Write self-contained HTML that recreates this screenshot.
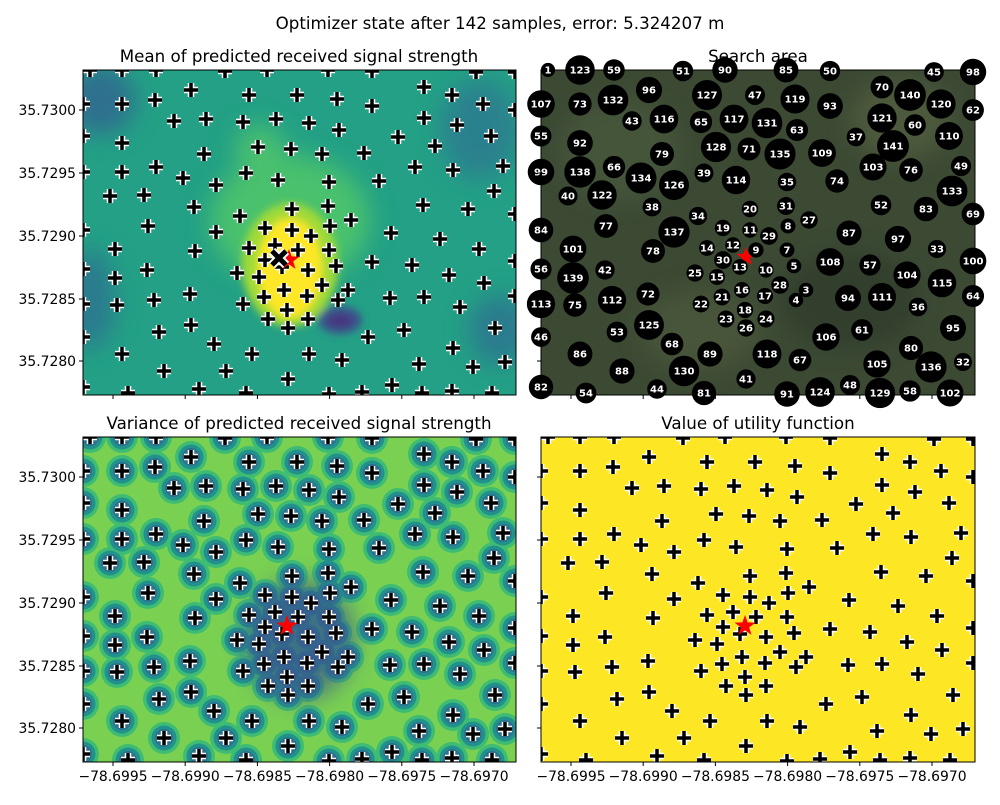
<!DOCTYPE html><html><head><style>body{margin:0;background:#fff}svg text{font-family:"DejaVu Sans","Liberation Sans",sans-serif}</style></head><body>
<svg id="s" width="1000" height="800" xmlns="http://www.w3.org/2000/svg">
<defs>
<clipPath id="c1"><rect x="83" y="70" width="433" height="325"/></clipPath>
<clipPath id="c2"><rect x="541" y="70" width="434" height="325"/></clipPath>
<clipPath id="c3"><rect x="83" y="437" width="433" height="325"/></clipPath>
<clipPath id="c4"><rect x="541" y="437" width="434" height="325"/></clipPath>
<filter id="b1" x="-50%" y="-50%" width="200%" height="200%"><feGaussianBlur stdDeviation="12"/></filter>
<filter id="b2" x="-50%" y="-50%" width="200%" height="200%"><feGaussianBlur stdDeviation="4"/></filter>
</defs>
<rect width="1000" height="800" fill="#fff"/>
<text x="500" y="29" font-size="16.7" text-anchor="middle">Optimizer state after 142 samples, error: 5.324207 m</text>
<text x="299" y="62" font-size="16.7" text-anchor="middle">Mean of predicted received signal strength</text>
<text x="758" y="62" font-size="16.7" text-anchor="middle">Search area</text>
<text x="299" y="429" font-size="16.7" text-anchor="middle">Variance of predicted received signal strength</text>
<text x="758" y="429" font-size="16.7" text-anchor="middle">Value of utility function</text>
<g clip-path="url(#c1)">
<rect x="83" y="70" width="433" height="325" fill="#23a085"/>
<g filter="url(#b1)">
<ellipse cx="100" cy="100" rx="35" ry="35" fill="#2f6f8e"/>
<ellipse cx="90" cy="300" rx="25" ry="50" fill="#2c7a8e"/>
<ellipse cx="480" cy="130" rx="40" ry="50" fill="#2a818e"/>
<ellipse cx="500" cy="330" rx="30" ry="35" fill="#2c7a8e"/>
<ellipse cx="290" cy="220" rx="80" ry="65" fill="#4ac16d"/>
<ellipse cx="260" cy="150" rx="25" ry="25" fill="#48c06e"/>
</g>
<g filter="url(#b2)">
<ellipse cx="290" cy="265" rx="48" ry="62" fill="#a0da39"/>
<ellipse cx="290" cy="268" rx="32" ry="50" fill="#fde725"/>
<ellipse cx="340" cy="320" rx="22" ry="14" fill="#3b528b"/>
<ellipse cx="340" cy="321" rx="12" ry="6" fill="#46307e"/>
</g>
</g>
<rect x="541" y="70" width="434" height="325" fill="#3c4a34"/>
<g clip-path="url(#c2)" filter="url(#b1)" opacity="0.7">
<ellipse cx="620" cy="150" rx="60" ry="50" fill="#4a5a3c"/><ellipse cx="850" cy="300" rx="70" ry="50" fill="#2e3a2a"/>
<ellipse cx="900" cy="120" rx="50" ry="40" fill="#55603f"/><ellipse cx="700" cy="330" rx="60" ry="40" fill="#4d5a3e"/>
</g>
<g clip-path="url(#c3)">
<rect x="83" y="437" width="433" height="325" fill="#7ad151"/>
<g id="rings"></g>
<g filter="url(#b1)"><ellipse cx="300" cy="640" rx="55" ry="60" fill="#3b528b" opacity="0.7"/></g>
</g>
<rect x="541" y="437" width="434" height="325" fill="#fde725"/>
<g id="m1" clip-path="url(#c1)"></g>
<g id="m3" clip-path="url(#c3)"></g>
<g id="m4" clip-path="url(#c4)"></g>
<g fill="none" stroke="#000" stroke-width="1">
<rect x="83" y="70" width="433" height="325"/><rect x="541" y="70" width="434" height="325"/>
<rect x="83" y="437" width="433" height="325"/><rect x="541" y="437" width="434" height="325"/>
</g>
<g id="m2"></g>
<g id="ax" font-size="13.9"></g>
</svg>
<script>
var P=[[1,548,70],[123,580,70],[59,614,70],[51,683,71],[90,725,70],[85,786,70],[50,830,71],[45,934,72],[98,973,72],
[107,541,104],[73,580,104],[132,613,100],[96,649,90],[127,707,95],[47,755,95],[119,795,99],[93,830,106],[70,882,87],[140,910,95],[120,941,104],[62,973,110],
[55,541,136],[92,580,143],[43,632,121],[116,664,119],[65,701,122],[117,734,119],[131,767,123],[63,797,130],[37,856,137],[121,882,118],[60,915,125],[110,949,136],
[99,541,172],[138,580,172],[66,614,167],[79,662,154],[128,716,147],[71,749,149],[135,780,154],[109,822,153],[141,893,146],[103,873,167],[76,911,170],[49,961,166],
[40,568,196],[122,602,195],[134,641,178],[126,674,185],[39,704,173],[114,736,180],[35,787,182],[74,837,181],[133,952,191],
[84,541,230],[77,606,226],[38,652,207],[34,698,216],[20,750,209],[31,786,206],[27,809,220],[52,881,205],[83,926,209],[69,973,214],
[101,573,249],[137,674,232],[19,723,228],[11,750,230],[8,788,226],[29,769,236],[87,849,233],[97,898,239],
[56,541,269],[78,653,251],[14,707,248],[12,733,245],[9,756,250],[7,787,250],[30,723,260],[13,740,267],[33,937,249],[100,973,261],
[139,573,278],[42,605,270],[25,695,273],[15,717,277],[10,766,270],[5,794,266],[108,830,262],[57,870,265],[104,907,275],
[113,541,304],[75,575,305],[112,612,300],[72,648,294],[21,722,297],[22,701,304],[16,742,290],[17,765,296],[28,780,285],[3,806,290],[4,796,300],[94,848,298],[111,882,297],[115,942,283],[64,973,296],[36,918,307],
[53,617,332],[125,649,325],[23,726,319],[18,745,310],[24,766,319],[26,746,328],[61,862,330],[95,953,328],
[46,541,337],[68,672,344],[106,826,337],[80,911,348],
[86,580,354],[89,710,354],[118,767,354],[67,800,360],[105,877,364],[136,931,367],[32,963,362],
[88,622,371],[130,684,371],[41,746,379],
[82,541,387],[54,586,393],[44,657,389],[81,704,393],[91,787,394],[124,820,392],[48,850,385],[129,880,393],[58,910,391],[102,950,393]];
var NS="http://www.w3.org/2000/svg";
function el(p,t,a,txt){var e=document.createElementNS(NS,t);for(var k in a)e.setAttribute(k,a[k]);if(txt!=null)e.textContent=txt;p.appendChild(e);return e;}
function cross(g,x,y){var d="M"+(x-7)+" "+y+"h14M"+x+" "+(y-7)+"v14";el(g,"path",{d:d,stroke:"#fff","stroke-width":6.5,fill:"none"});el(g,"path",{d:d,stroke:"#000","stroke-width":3.5,fill:"none"});}
function star(g,x,y,r){var s="";for(var i=0;i<10;i++){var a=-Math.PI/2+i*Math.PI/5,rr=i%2?r*0.4:r;s+=(x+rr*Math.cos(a)).toFixed(1)+","+(y+rr*Math.sin(a)).toFixed(1)+" ";}el(g,"polygon",{points:s,fill:"#f00"});}
var m1=document.getElementById("m1"),m2=document.getElementById("m2"),m3=document.getElementById("m3"),m4=document.getElementById("m4"),R=document.getElementById("rings");
P.forEach(function(p){var x=p[1]-458,y=p[2]+367;el(R,"circle",{cx:x,cy:y,r:16,fill:"#3fbc73"});});
P.forEach(function(p){var x=p[1]-458,y=p[2]+367;el(R,"circle",{cx:x,cy:y,r:12.5,fill:"#21918c"});});
P.forEach(function(p){var x=p[1]-458,y=p[2]+367;el(R,"circle",{cx:x,cy:y,r:9,fill:"#2c728e"});});
P.forEach(function(p){cross(m1,p[1]-458,p[2]);cross(m3,p[1]-458,p[2]+367);cross(m4,p[1],p[2]+367);});
star(m1,289,260,11);
el(m1,"path",{d:"M272 251l14 14M286 251l-14 14",stroke:"#fff","stroke-width":9});
el(m1,"path",{d:"M272 251l14 14M286 251l-14 14",stroke:"#000","stroke-width":5});
star(m2,746,257,10);
P.forEach(function(p){var r=7+p[0]/142*9;el(m2,"circle",{cx:p[1],cy:p[2],r:r,fill:"#000"});el(m2,"text",{x:p[1],y:p[2]+3.5,"font-size":10,"font-weight":"bold",fill:"#fff","text-anchor":"middle"},p[0]);});
star(m3,287,626,11);star(m4,745,626,11);
var ax=document.getElementById("ax");
var yl=["35.7280","35.7285","35.7290","35.7295","35.7300"],yt=[361,299,236,173,110];
[0,367].forEach(function(o){yl.forEach(function(l,i){var y=yt[i]+o;el(ax,"line",{x1:79,x2:83,y1:y,y2:y,stroke:"#000"});el(ax,"line",{x1:537,x2:541,y1:y,y2:y,stroke:"#000"});el(ax,"text",{x:76,y:y+5,"text-anchor":"end"},l);});});
var xl=["\u221278.6995","\u221278.6990","\u221278.6985","\u221278.6980","\u221278.6975","\u221278.6970"];
[[113,72.2],[571,72.2]].forEach(function(b){xl.forEach(function(l,i){var x=b[0]+i*b[1];[395,762].forEach(function(y){el(ax,"line",{x1:x,x2:x,y1:y,y2:y+4,stroke:"#000"});});el(ax,"text",{x:x,y:781,"text-anchor":"middle"},l);});});
</script>
</body></html>
